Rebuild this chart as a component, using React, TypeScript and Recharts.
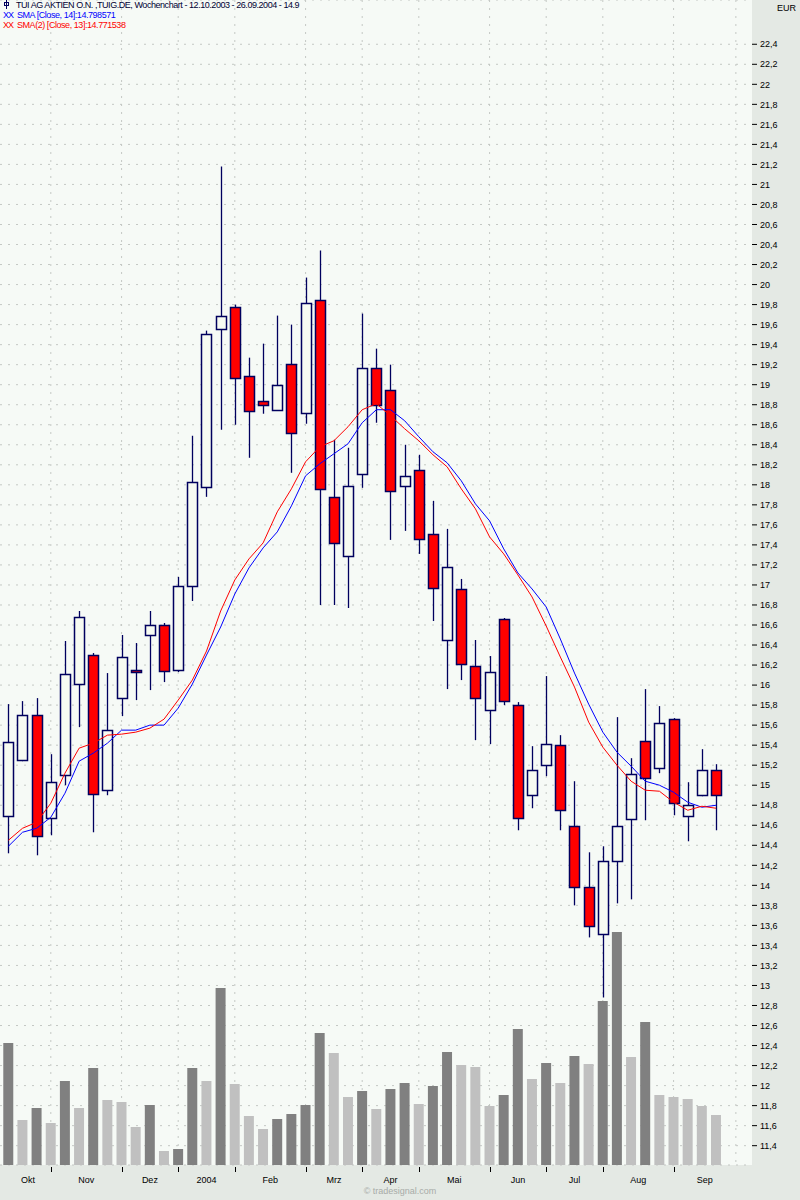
import React from "react";
import {
  ComposedChart,
  Bar,
  Line,
  XAxis,
  YAxis,
  CartesianGrid,
  Cell,
} from "recharts";

// weekly candles 12.10.2003 - 26.09.2004
const opens = [
  14.69, 15.25, 15.7, 14.67, 15.1, 16.01, 16.3, 14.95, 15.87, 16.15, 16.5, 16.6, 16.15,
  16.99, 17.98, 19.56, 19.78, 19.09, 18.84, 18.75, 19.21, 18.72, 19.85, 17.88, 17.29, 18.11,
  19.17, 18.95, 17.99, 18.15, 17.51, 16.45, 16.96, 16.19, 15.75, 16.66, 15.8, 14.9, 15.2,
  15.4, 14.59, 13.98, 13.51, 14.24, 14.66, 15.44, 15.17, 15.66, 14.69, 14.9, 15.15,
];
const highs = [
  15.81, 15.84, 15.87, 15.31, 16.44, 16.74, 16.32, 16.12, 16.5, 16.42, 16.74, 16.62, 17.08,
  18.49, 19.54, 21.18, 19.8, 19.27, 19.41, 19.69, 19.6, 20.07, 20.34, 18.45, 18.37, 19.71,
  19.36, 19.2, 18.4, 18.3, 17.84, 17.56, 17.06, 16.45, 16.29, 16.67, 15.83, 15.39, 16.09,
  15.5, 15.04, 14.33, 14.39, 15.68, 15.27, 15.96, 15.79, 15.67, 15.03, 15.36, 15.21,
];
const lows = [
  14.32, 15.24, 14.3, 14.5, 15.0, 15.58, 14.53, 14.9, 15.69, 15.85, 15.95, 16.03, 16.13,
  16.84, 17.88, 18.55, 18.6, 18.27, 18.71, 18.74, 18.12, 18.61, 16.8, 16.8, 16.77, 17.97,
  18.62, 17.45, 17.54, 17.31, 16.64, 15.96, 16.05, 15.45, 15.41, 15.8, 14.55, 14.77, 15.09,
  14.55, 13.8, 13.48, 12.88, 13.82, 13.86, 14.65, 15.12, 14.7, 14.44, 14.89, 14.55,
];
const closes = [
  15.43, 15.7, 14.49, 15.03, 16.11, 16.68, 14.91, 15.55, 16.28, 16.13, 16.6, 16.14, 16.99,
  18.03, 19.51, 19.69, 19.07, 18.74, 18.8, 19.0, 18.52, 19.82, 17.96, 17.42, 17.99, 19.17,
  18.8, 17.94, 18.09, 17.46, 16.97, 17.18, 16.21, 15.87, 16.13, 15.84, 14.67, 15.15, 15.41,
  14.75, 13.98, 13.59, 14.24, 14.59, 15.11, 15.07, 15.62, 14.82, 14.8, 15.15, 14.9,
];
// weekly volume, thousand shares
const volumes = [
  4880, 1800, 2280, 1680, 3360, 2280, 3880, 2600, 2520, 1520, 2400, 560, 640, 3880, 3360,
  7080, 3240, 1960, 1440, 1840, 2040, 2400, 5280, 4480, 2720, 2960, 2240, 3040, 3280, 2440,
  3160, 4520, 4000, 3920, 2360, 2800, 5440, 3440, 4080, 3280, 4360, 4040, 6560, 9320, 4320,
  5720, 2800, 2720, 2640, 2360, 2000,
];
const sma14 = [
  14.39, 14.53, 14.57, 14.68, 14.92, 15.24, 15.32, 15.42, 15.55, 15.55, 15.6, 15.6, 15.77,
  16.01, 16.3, 16.58, 16.91, 17.17, 17.37, 17.53, 17.79, 18.09, 18.21, 18.31, 18.41, 18.62,
  18.75, 18.75, 18.64, 18.48, 18.33, 18.22, 18.04, 17.81, 17.64, 17.36, 17.12, 16.96, 16.78,
  16.46, 16.12, 15.81, 15.53, 15.33, 15.19, 15.04, 15.0, 14.93, 14.83, 14.78, 14.8,
];
const sma13 = [
  14.45, 14.57, 14.63, 14.82, 15.12, 15.37, 15.42, 15.5, 15.51, 15.53, 15.57, 15.66, 15.85,
  16.05, 16.34, 16.74, 17.05, 17.26, 17.42, 17.73, 17.96, 18.23, 18.38, 18.44, 18.58, 18.75,
  18.81, 18.69, 18.56, 18.44, 18.3, 18.18, 17.96, 17.76, 17.48, 17.31, 17.1, 16.88, 16.59,
  16.28, 15.98, 15.63, 15.38, 15.2, 15.04, 14.95, 14.94, 14.83, 14.75, 14.79, 14.77,
];

const priceTicks = [
  11.4, 11.6, 11.8, 12, 12.2, 12.4, 12.6, 12.8, 13, 13.2, 13.4, 13.6, 13.8, 14, 14.2, 14.4,
  14.6, 14.8, 15, 15.2, 15.4, 15.6, 15.8, 16, 16.2, 16.4, 16.6, 16.8, 17, 17.2, 17.4, 17.6,
  17.8, 18, 18.2, 18.4, 18.6, 18.8, 19, 19.2, 19.4, 19.6, 19.8, 20, 20.2, 20.4, 20.6, 20.8,
  21, 21.2, 21.4, 21.6, 21.8, 22, 22.2, 22.4,
];
const monthLabels = ["Okt", "Nov", "Dez", "2004", "Feb", "Mrz", "Apr", "Mai", "Jun", "Jul", "Aug", "Sep"];
const monthLabelAt = [1.38, 5.5, 10, 14, 18.5, 23, 27, 31.5, 36, 40, 44.5, 49.2];
const monthStarts = [3, 8, 12, 16, 21, 25, 29, 34, 38, 42, 47];
const gridWeeks = [...monthStarts, 51.4];

const data = closes.map((c, i) => ({
  week: i,
  open: opens[i],
  high: highs[i],
  low: lows[i],
  close: c,
  volume: volumes[i],
  sma14: sma14[i],
  sma13: sma13[i],
}));

const FONT = "'Liberation Sans', Arial, sans-serif";
const EDGE = "#00005e";
const X_DOMAIN = [-0.59, 52.54];

const Candle = (props: any) => {
  const { x, y, width, height, payload } = props;
  const { open, close, high, low } = payload;
  const top = Math.min(y, y + height);
  const h = Math.abs(height);
  const k = high === low ? 0 : h / (high - low);
  const py = (v: number) => top + (high - v) * k;
  const cx = Math.round(x + width / 2) + 0.5;
  const bTop = Math.round(py(Math.max(open, close))) + 0.5;
  const bBot = Math.round(py(Math.min(open, close))) + 0.5;
  const up = close >= open;
  return (
    <g>
      <line x1={cx} x2={cx} y1={top} y2={top + h} stroke={EDGE} strokeWidth={1.3} />
      <rect
        x={cx - 5}
        y={bTop}
        width={10}
        height={Math.max(1, bBot - bTop)}
        fill={up ? "#f7fbf2" : "#ff0000"}
        stroke={EDGE}
        strokeWidth={1.5}
      />
    </g>
  );
};

const MonthTick = (props: any) => {
  const { x, y, payload } = props;
  const v = payload.value;
  if (monthStarts.indexOf(v) >= 0) {
    const px = Math.round(x) + 0.5;
    return <line x1={px} x2={px} y1={y + 2} y2={y + 7} stroke="#000" strokeWidth={1} />;
  }
  const idx = monthLabelAt.indexOf(v);
  return (
    <text x={x} y={y + 18} textAnchor="middle" fontSize={9} fontFamily={FONT} fill="#000">
      {monthLabels[idx]}
    </text>
  );
};

// month separators go into the grid so they stay behind the marks
const monthGrid = (props: any) => {
  const { xAxis, offset } = props;
  if (xAxis && typeof xAxis.scale === "function") {
    return gridWeeks.map((w) => xAxis.scale(w));
  }
  const [d0, d1] = X_DOMAIN;
  return gridWeeks.map((w) => offset.left + ((w - d0) / (d1 - d0)) * offset.width);
};

const fmt = (v: number) => String(v).replace(".", ",");

const legendLine = { whiteSpace: "nowrap" as const, letterSpacing: -0.45 };

export default function App() {
  return (
    <div
      style={{
        position: "absolute",
        left: 0,
        top: 0,
        width: 800,
        height: 1200,
        background: "#e4e9e4",
        fontFamily: FONT,
      }}
    >
      <ComposedChart width={800} height={1200} data={data} margin={{ top: 0, right: 0, bottom: 0, left: 0 }}>
        <CartesianGrid
          stroke="#c4c8c4"
          strokeDasharray="2 6"
          fill="#f6faf6"
          fillOpacity={1}
          verticalCoordinatesGenerator={monthGrid}
        />
        <XAxis
          dataKey="week"
          type="number"
          domain={X_DOMAIN}
          allowDataOverflow
          ticks={[...monthLabelAt, ...monthStarts].sort((a, b) => a - b)}
          interval={0}
          tick={<MonthTick />}
          tickLine={false}
          axisLine={false}
          tickSize={0}
          tickMargin={0}
          height={35}
        />
        <XAxis xAxisId="vol" dataKey="week" type="number" domain={X_DOMAIN} allowDataOverflow hide />
        <YAxis
          orientation="right"
          width={48}
          domain={[11.207, 22.842]}
          allowDataOverflow
          ticks={priceTicks}
          interval={0}
          tickFormatter={fmt}
          tick={{ fontSize: 9, fill: "#000", fontFamily: FONT }}
          tickLine={{ stroke: "#000" }}
          tickSize={5}
          tickMargin={3}
          axisLine={false}
        />
        <YAxis yAxisId="vol" hide domain={[0, 46600]} allowDataOverflow />
        <Bar xAxisId="vol" yAxisId="vol" dataKey="volume" barSize={10} isAnimationActive={false}>
          {data.map((d, i) => (
            <Cell key={i} fill={i === 0 || d.volume > volumes[i - 1] ? "#808080" : "#c0c0c0"} />
          ))}
        </Bar>
        <Bar
          dataKey={(d: any) => [d.low, d.high]}
          barSize={10}
          shape={<Candle />}
          isAnimationActive={false}
        />
        <Line
          dataKey="sma14"
          type="linear"
          stroke="#0000ff"
          strokeWidth={1}
          dot={false}
          activeDot={false}
          isAnimationActive={false}
        />
        <Line
          dataKey="sma13"
          type="linear"
          stroke="#ff0000"
          strokeWidth={1}
          dot={false}
          activeDot={false}
          isAnimationActive={false}
        />
      </ComposedChart>

      <div style={{ position: "absolute", left: 3, top: 0, fontSize: 9, lineHeight: "10px" }}>
        <div style={{ ...legendLine, color: "#000033" }}>
          <svg width={8} height={9} style={{ verticalAlign: "-1px", marginRight: 5 }}>
            <line x1={3.5} x2={3.5} y1={0} y2={9} stroke={EDGE} />
            <rect x={1.5} y={2.5} width={4} height={3} fill="none" stroke={EDGE} />
          </svg>
          TUI AG AKTIEN O.N. ,TUIG.DE, Wochenchart - 12.10.2003 - 26.09.2004 - 14.9
        </div>
        <div style={{ ...legendLine, color: "#0000ff" }}>
          <span style={{ letterSpacing: -1, marginRight: 4 }}>XX</span>SMA [Close, 14]:14.798571
        </div>
        <div style={{ ...legendLine, color: "#ff0000" }}>
          <span style={{ letterSpacing: -1, marginRight: 4 }}>XX</span>SMA(2) [Close, 13]:14.771538
        </div>
      </div>
      <div style={{ position: "absolute", right: 4, top: 3, fontSize: 9, color: "#000" }}>EUR</div>
      <div
        style={{
          position: "absolute",
          left: 0,
          width: 800,
          top: 1186,
          textAlign: "center",
          fontSize: 9,
          color: "#a8aca8",
        }}
      >
        © tradesignal.com
      </div>
    </div>
  );
}
